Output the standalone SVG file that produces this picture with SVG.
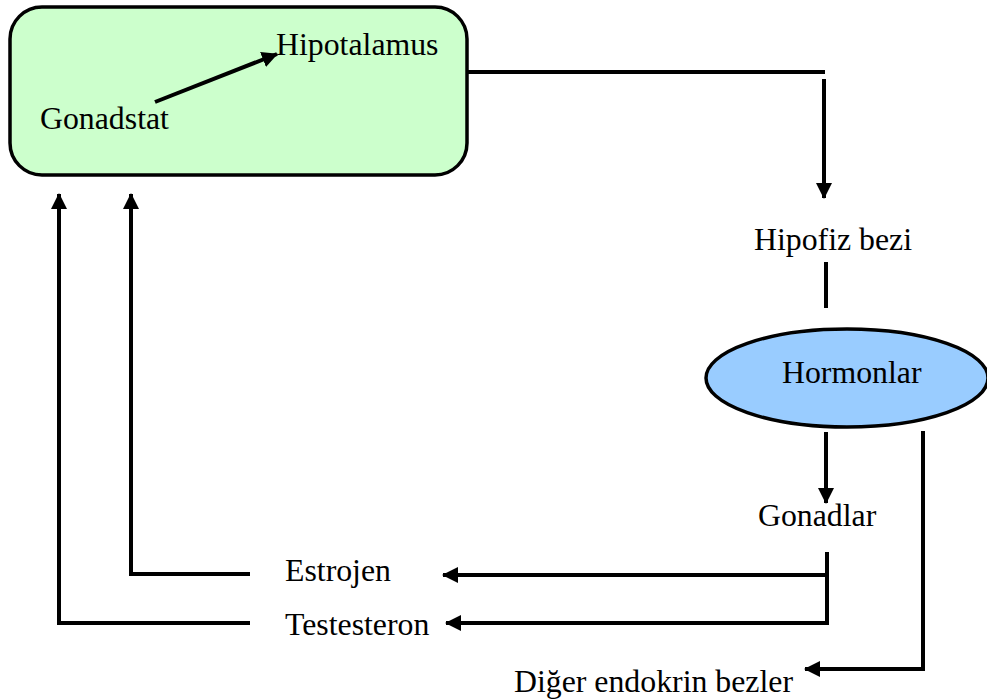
<svg xmlns="http://www.w3.org/2000/svg" width="987" height="699" viewBox="0 0 987 699">
<style>
.t{font-family:"Liberation Serif","Times New Roman",serif;font-size:31.8px;fill:#000}
.c{fill:none;stroke:#000;stroke-width:4;stroke-linecap:butt;stroke-linejoin:miter}
.a{marker-end:url(#ah)}
</style>
<defs>
<marker id="ah" markerUnits="userSpaceOnUse" viewBox="0 0 16 16" refX="15" refY="8" markerWidth="16" markerHeight="16" orient="auto">
<path d="M0,0 L16,8 L0,16 Z" fill="#000"/>
</marker>
</defs>
<rect width="987" height="699" fill="#fff"/>
<g id="hipotalamus-box">
<rect x="10" y="7" width="457" height="168" rx="32" ry="32" fill="#CCFFCC" stroke="#000" stroke-width="3.5"/>
<text class="t" x="276" y="55">Hipotalamus</text>
<text class="t" x="40" y="129">Gonadstat</text>
</g>
<g id="hipofiz">
<text class="t" x="754" y="250">Hipofiz bezi</text>
</g>
<g id="hormonlar">
<ellipse cx="847" cy="378" rx="141" ry="49" fill="#99CCFF" stroke="#000" stroke-width="3.5"/>
<text class="t" x="782" y="383">Hormonlar</text>
</g>
<g id="gonadlar">
<text class="t" x="758" y="526">Gonadlar</text>
</g>
<g id="estrojen">
<text class="t" x="285" y="581">Estrojen</text>
</g>
<g id="testesteron">
<text class="t" x="285" y="635">Testesteron</text>
</g>
<g id="diger">
<text class="t" x="514" y="692">Diğer endokrin bezler</text>
</g>
<g id="connectors">
<path class="c a" d="M155,102 L277,54"/>
<path class="c" d="M467,72 L825,72"/>
<path class="c a" d="M824,79 L824,198"/>
<path class="c" d="M826,262 L826,308"/>
<path class="c a" d="M826,432 L826,503"/>
<path class="c a" d="M923,431 L923,669 L805,669"/>
<path class="c" d="M827,552 L827,625"/>
<path class="c a" d="M827,575 L443,575"/>
<path class="c a" d="M829,623 L446,623"/>
<path class="c a" d="M250,574 L131,574 L131,194"/>
<path class="c a" d="M250,623 L59,623 L59,194"/>
</g>
</svg>
